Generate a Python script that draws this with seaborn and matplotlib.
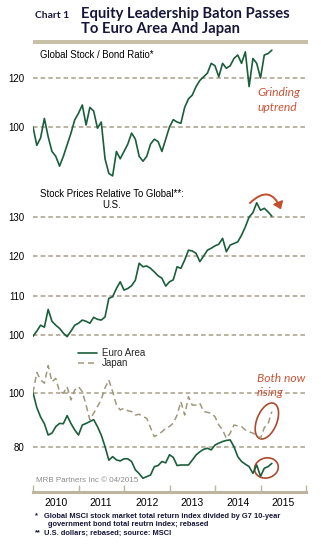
import numpy as np
import pandas as pd
import seaborn as sns
import matplotlib
matplotlib.use("Agg")
import matplotlib.pyplot as plt
from matplotlib.patches import Ellipse, FancyArrowPatch, Rectangle
import matplotlib.transforms as mtransforms

# ---------------- data (monthly, Jan 2010 - Apr 2015) ----------------
months = pd.date_range("2010-01-01", periods=64, freq="MS")

stock_bond = [100, 92.5, 95.5, 103.5, 96, 90, 88, 84, 88, 92.7, 97.4, 102.9,
              105.6, 109, 100.8, 108, 106.5, 99.5, 102, 87, 81, 80, 90, 87,
              90, 93, 97.5, 95, 88, 86, 88, 93, 95, 94, 90, 95,
              100, 103, 102, 101.5, 108, 111.5, 113, 116.5, 119, 120.5, 122, 126,
              125, 120.5, 126, 124, 125, 128, 129.4, 126, 130.7, 116.5, 128, 126,
              120, 129.4, 130, 131.4]

us_rel = [99.7, 101, 102.5, 102, 106.5, 103.5, 102.5, 101.7, 100.5, 99.6, 101, 102.5,
          103, 103.8, 103.5, 103, 104.5, 104, 103.8, 104.6, 109.3, 109.7, 111.8, 113.5,
          111.4, 111.8, 112.5, 113.9, 118.2, 117.3, 117.5, 116.9, 116, 115, 114.4, 112.4,
          113.5, 114, 117.3, 116.9, 119, 121.5, 121.3, 120.7, 118.6, 120, 121.5, 122,
          122.6, 123, 124.5, 121.1, 122.8, 123.2, 123.6, 125.3, 127.4, 129.9, 131, 133.5,
          131.6, 132.1, 131.2, 130.1]

euro_rel = [100, 94.5, 91, 88.5, 84.3, 85, 87.4, 88.6, 88.5, 91.5, 88.6, 86.2,
            84.3, 88, 88.6, 89.3, 90, 87.4, 84.3, 80, 75, 76.3, 75.1, 74.7,
            75.5, 75.5, 74.5, 71.4, 70, 68.3, 68.9, 69.5, 72.6, 73, 74.5, 74,
            77, 76, 73, 73.2, 73.2, 73.2, 75, 76.9, 78.1, 79, 79.4, 78.8,
            80.6, 81.3, 81.9, 82.3, 82.5, 80, 76.3, 74.5, 73.5, 72.6, 70.1, 73.2,
            69, 72, 72.6, 73.8]

japan_rel = [100, 107.5, 104.7, 103.5, 110, 104, 105.3, 100.4, 99.8, 102.2, 97.3, 101,
             102.2, 100.4, 95.4, 89.9, 92.4, 94.8, 97.5, 101.8, 104.7, 100.4, 95.4, 93.6,
             94.2, 93.3, 93, 91.7, 92, 91.1, 90.5, 87, 83.7, 84.5, 85.5, 86.8,
             87.5, 88.7, 91.7, 96.7, 91.7, 98.5, 95.4, 95.4, 96.1, 93, 92.7, 92.4,
             91.1, 88, 86.2, 83.1, 85, 88, 87.7, 87.4, 86.2, 85.5, 85, 84.3,
             83.1, 87, 88.5, 93]

year_labels = ["2010", "2011", "2012", "2013", "2014", "2015"]
p1_ticks = [100, 120]
p2_ticks = [100, 110, 120, 130]
p3_ticks = [80, 100]

t = months.year + (months.month - 1) / 12.0

# ---------------- style ----------------
sns.set_theme(style="white")
plt.rcParams["font.family"] = ["Liberation Sans", "DejaVu Sans"]

GREEN = "#1b5e3b"
TAN = "#a0977c"
GRID = "#a89f88"
RED = "#c9553a"
ERED = "#ad4a2d"
NAVY = "#16163a"

W, H = 321, 545
fig = plt.figure(figsize=(W / 100, H / 100), dpi=100)
fig.patch.set_facecolor("white")


def fx(px):
    return px / W


def fy(py):
    return 1 - py / H


def make_ax(top, bottom):
    return fig.add_axes([fx(33), fy(bottom), fx(306) - fx(33), fy(top) - fy(bottom)])


ax1 = make_ax(45, 183)
ax2 = make_ax(185, 343)
ax3 = make_ax(350, 492)

for ax, lim, ticks in [(ax1, (77.1, 133.5), p1_ticks),
                       (ax2, (98, 138), p2_ticks),
                       (ax3, (63.2, 115.8), p3_ticks)]:
    ax.set_xlim(2010, 2016)
    ax.set_ylim(*lim)
    ax.set_yticks(ticks)
    ax.set_yticklabels([str(v) for v in ticks])
    ax.tick_params(axis="y", length=0, pad=6, labelsize=7, labelcolor="black")
    ax.grid(axis="y", color=GRID, linestyle=(0, (3, 2)), linewidth=1.1)
    ax.grid(axis="x", visible=False)
    for s in ax.spines.values():
        s.set_visible(False)
    ax.set_facecolor("none")

ax1.set_xticks([])
ax2.set_xticks([])

sns.lineplot(x=t, y=stock_bond, ax=ax1, color=GREEN, linewidth=1.2)
sns.lineplot(x=t, y=us_rel, ax=ax2, color=GREEN, linewidth=1.2)
sns.lineplot(x=t, y=euro_rel, ax=ax3, color=GREEN, linewidth=1.2, label="Euro Area")
sns.lineplot(x=t, y=japan_rel, ax=ax3, color=TAN, linewidth=1.1,
             linestyle=(0, (4, 2.5)), label="Japan")
for ax in (ax1, ax2, ax3):
    ax.set_xlabel("")
    ax.set_ylabel("")

# bottom axis
ax3.spines["bottom"].set_visible(True)
ax3.spines["bottom"].set_color("#bdb5a0")
ax3.spines["bottom"].set_linewidth(2.2)
ax3.set_xticks(range(2010, 2017))
ax3.set_xticklabels([])
ax3.set_xticks([y + 0.5 for y in range(2010, 2016)], minor=True)
ax3.set_xticklabels(year_labels, minor=True)
ax3.tick_params(axis="x", which="major", direction="in", length=5, width=1,
                color="#bdb5a0", bottom=True)
ax3.tick_params(axis="x", which="minor", length=0, pad=4, labelsize=7.5,
                labelcolor="black", bottom=True)

leg = ax3.legend(loc="upper left", bbox_to_anchor=(fx(78), fy(348)),
                 bbox_transform=fig.transFigure, frameon=False, fontsize=7,
                 handlelength=2.0, handletextpad=0.5, labelspacing=0.05,
                 borderpad=0, borderaxespad=0)

# ---------------- header ----------------
fig.add_artist(Rectangle((fx(33), fy(43.5)), fx(308) - fx(33), 3 / H,
                         transform=fig.transFigure, color="#c9c0a8", lw=0))
fig.text(fx(35), fy(15), "Chart 1", fontsize=7.5, fontweight="bold", color=NAVY,
         va="center", ha="left", family=["Lato", "DejaVu Sans"])
fig.text(fx(81), fy(14), "Equity Leadership Baton Passes", fontsize=10.6,
         fontweight="bold", color=NAVY, va="center", ha="left",
         family=["Lato", "DejaVu Sans"])
fig.text(fx(81), fy(29.5), "To Euro Area And Japan", fontsize=10.6,
         fontweight="bold", color=NAVY, va="center", ha="left",
         family=["Lato", "DejaVu Sans"])

# panel titles
fig.text(fx(40), fy(55), "Global Stock / Bond Ratio*", fontsize=6.9, va="center",
         ha="left", color="black")
fig.text(fx(40), fy(194), "Stock Prices Relative To Global**:", fontsize=6.9,
         va="center", ha="left", color="black")
fig.text(fx(112), fy(205), "U.S.", fontsize=6.9, va="center", ha="center", color="black")

# annotations
ann = dict(fontsize=8.7, style="italic", color=RED, va="center", ha="left",
           family=["Lato", "DejaVu Sans"])
fig.text(fx(257), fy(92), "Grinding", **ann)
fig.text(fx(257), fy(107), "uptrend", **ann)
fig.text(fx(257), fy(378), "Both now", **ann)
fig.text(fx(257), fy(393), "rising", **ann)

arrow = FancyArrowPatch((fx(248), fy(205)), (fx(282), fy(212)),
                        transform=fig.transFigure,
                        connectionstyle="arc3,rad=-0.8",
                        arrowstyle="-|>,head_length=4,head_width=3",
                        color="#c2502e", lw=1.4)
fig.add_artist(arrow)


def ring(ax, xd, yd, w, h, ang):
    tr = fig.dpi_scale_trans + mtransforms.ScaledTranslation(xd, yd, ax.transData)
    e = Ellipse((0, 0), w, h, angle=ang, transform=tr, fill=False,
                edgecolor=ERED, lw=1.2)
    ax.add_artist(e)


ring(ax3, 2015.14, 89.5, 0.20, 0.38, -22)
ring(ax3, 2015.13, 72.1, 0.24, 0.20, 15)

fig.text(fx(36), fy(480), "MRB Partners Inc \u00a9 04/2015", fontsize=5.8,
         color="#8c8c8c", va="center", ha="left")

# footnotes
fn = dict(fontsize=5.4, fontweight="bold", color=NAVY, va="center", ha="left")
fig.text(fx(35), fy(516), "*", **fn)
fig.text(fx(44), fy(516), "Global MSCI stock market total return index divided by G7 10-year", **fn)
fig.text(fx(48), fy(524.5), "government bond total reutrn index; rebased", **fn)
fig.text(fx(35), fy(533), "**", **fn)
fig.text(fx(44), fy(533), "U.S. dollars; rebased; source: MSCI", **fn)

fig.savefig("out.png", dpi=100, facecolor="white")
